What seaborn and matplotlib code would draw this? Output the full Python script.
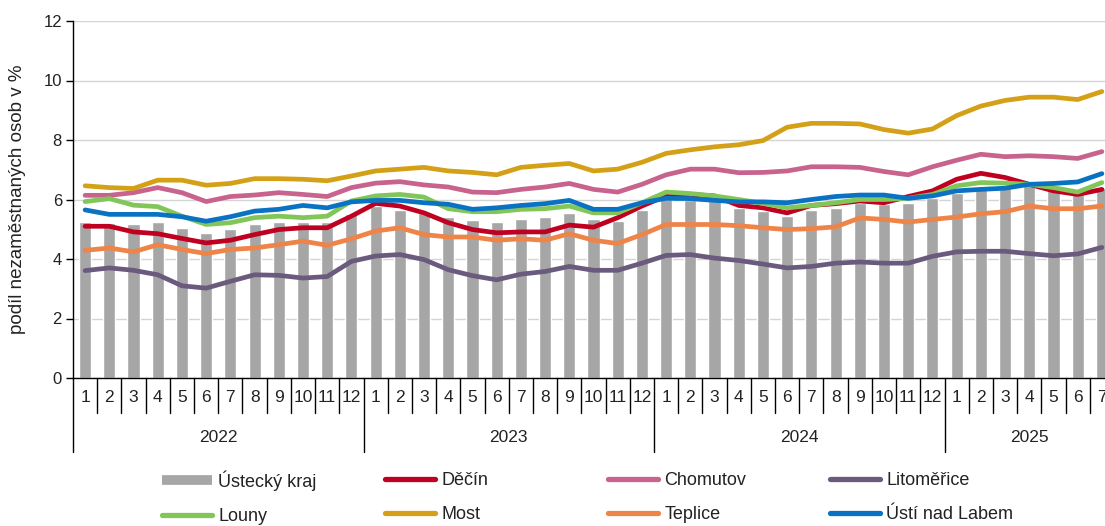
import numpy as np
import pandas as pd
import matplotlib
matplotlib.use("Agg")
import matplotlib.pyplot as plt
from matplotlib.lines import Line2D
import seaborn as sns

# ---------------- data ----------------
years = ["2022", "2023", "2024", "2025"]
months_per_year = [12, 12, 12, 7]
month_labels = [str(m) for n in months_per_year for m in range(1, n + 1)]

kraj = [5.23, 5.22, 5.17, 5.23, 5.05, 4.86, 5.00, 5.17, 5.23, 5.23, 5.23, 5.50,
        5.78, 5.65, 5.54, 5.42, 5.31, 5.23, 5.34, 5.40, 5.54, 5.34, 5.28, 5.65,
        6.02, 6.00, 5.95, 5.72, 5.60, 5.45, 5.65, 5.72, 5.88, 5.85, 5.87, 6.04,
        6.21, 6.38, 6.38, 6.49, 6.32, 6.21, 6.38]
decin = [5.10, 5.10, 4.91, 4.85, 4.69, 4.54, 4.63, 4.82, 4.99, 5.05, 5.05, 5.44,
         5.87, 5.78, 5.55, 5.22, 4.99, 4.88, 4.91, 4.91, 5.14, 5.07, 5.39, 5.78,
         6.12, 6.17, 6.12, 5.80, 5.72, 5.55, 5.80, 5.86, 5.95, 5.89, 6.10, 6.29,
         6.68, 6.88, 6.74, 6.51, 6.29, 6.17, 6.34]
chomutov = [6.14, 6.14, 6.23, 6.40, 6.23, 5.93, 6.10, 6.15, 6.23, 6.17, 6.10, 6.40,
            6.55, 6.60, 6.49, 6.42, 6.25, 6.23, 6.34, 6.42, 6.54, 6.34, 6.25, 6.51,
            6.83, 7.02, 7.02, 6.90, 6.91, 6.96, 7.10, 7.10, 7.08, 6.94, 6.83, 7.10,
            7.32, 7.52, 7.44, 7.47, 7.44, 7.38, 7.61]
litomerice = [3.61, 3.70, 3.62, 3.47, 3.10, 3.02, 3.25, 3.47, 3.45, 3.36, 3.41, 3.92,
              4.10, 4.15, 3.98, 3.64, 3.44, 3.30, 3.49, 3.58, 3.75, 3.62, 3.62, 3.86,
              4.12, 4.15, 4.03, 3.95, 3.83, 3.70, 3.75, 3.86, 3.90, 3.86, 3.86, 4.09,
              4.24, 4.26, 4.26, 4.18, 4.11, 4.17, 4.39]
louny = [5.93, 6.03, 5.81, 5.76, 5.44, 5.16, 5.22, 5.39, 5.44, 5.39, 5.44, 5.95,
         6.12, 6.17, 6.08, 5.69, 5.59, 5.59, 5.67, 5.69, 5.78, 5.55, 5.55, 5.89,
         6.25, 6.20, 6.12, 6.00, 5.87, 5.72, 5.80, 5.89, 6.00, 6.00, 6.04, 6.17,
         6.46, 6.57, 6.55, 6.51, 6.40, 6.25, 6.57]
most = [6.46, 6.40, 6.37, 6.65, 6.65, 6.48, 6.54, 6.70, 6.70, 6.68, 6.63, 6.79,
        6.96, 7.02, 7.08, 6.96, 6.91, 6.83, 7.08, 7.15, 7.21, 6.96, 7.02, 7.25,
        7.55, 7.67, 7.77, 7.84, 7.98, 8.43, 8.56, 8.56, 8.54, 8.35, 8.23, 8.37,
        8.82, 9.14, 9.33, 9.44, 9.44, 9.36, 9.63]
teplice = [4.29, 4.37, 4.24, 4.48, 4.32, 4.18, 4.32, 4.37, 4.48, 4.60, 4.46, 4.68,
           4.94, 5.05, 4.82, 4.74, 4.74, 4.63, 4.68, 4.63, 4.85, 4.63, 4.52, 4.82,
           5.16, 5.16, 5.16, 5.12, 5.05, 4.99, 5.02, 5.08, 5.38, 5.33, 5.24, 5.33,
           5.41, 5.52, 5.59, 5.78, 5.69, 5.69, 5.78]
usti = [5.65, 5.50, 5.50, 5.50, 5.42, 5.27, 5.42, 5.61, 5.67, 5.80, 5.72, 5.92,
        5.97, 5.97, 5.89, 5.84, 5.67, 5.72, 5.80, 5.86, 5.97, 5.67, 5.67, 5.89,
        6.04, 6.03, 5.97, 5.92, 5.92, 5.89, 6.00, 6.10, 6.15, 6.15, 6.04, 6.12,
        6.29, 6.34, 6.38, 6.51, 6.54, 6.59, 6.87]

bar_name = "Ústecký kraj"
line_names = ["Děčín", "Chomutov", "Litoměřice", "Louny", "Most", "Teplice", "Ústí nad Labem"]
line_values = [decin, chomutov, litomerice, louny, most, teplice, usti]
line_colors = ["#C00020", "#C8638E", "#6A5A7E", "#82C65A", "#D4A017", "#EE8448", "#0A72C2"]
bar_color = "#A6A6A6"

n = len(month_labels)
df = pd.DataFrame({"idx": np.arange(n), bar_name: kraj})
for nm, vals in zip(line_names, line_values):
    df[nm] = vals

# ---------------- figure ----------------
sns.set_theme(style="white")
plt.rcParams["font.family"] = ["Liberation Sans", "DejaVu Sans"]

W, H = 1105, 526
fig = plt.figure(figsize=(W / 100, H / 100), dpi=100)
ax_left, ax_right, ax_top, ax_bottom = 73, 1114, 21, 378
ax = fig.add_axes([ax_left / W, (H - ax_bottom) / H, (ax_right - ax_left) / W, (ax_bottom - ax_top) / H])

sns.barplot(data=df, x="idx", y=bar_name, native_scale=True, width=0.5,
            color=bar_color, saturation=1, ax=ax, zorder=2)
for nm, col in zip(line_names, line_colors):
    sns.lineplot(data=df, x="idx", y=nm, color=col, lw=3.4, ax=ax,
                 solid_capstyle="round", solid_joinstyle="round", zorder=3)

ax.set_xlim(-0.5, n - 0.5)
ax.set_ylim(0, 12)
ax.set_yticks(np.arange(0, 13, 2))
ax.tick_params(axis="y", which="major", direction="out", length=5, width=1,
               color="black", labelsize=12, pad=3, left=True, labelcolor="#222222")
ax.yaxis.grid(True, color="#D4D4D4", lw=1)
ax.xaxis.grid(False)
ax.set_axisbelow(True)
for s in ["top", "right"]:
    ax.spines[s].set_visible(False)
for s in ["left", "bottom"]:
    ax.spines[s].set_visible(True)
    ax.spines[s].set_color("black")
    ax.spines[s].set_linewidth(1)

ax.set_xticks(np.arange(n))
ax.set_xticklabels(month_labels, fontsize=12.5, color="#222222")
ax.tick_params(axis="x", length=0, pad=9)
ax.set_xlabel("")
ax.set_ylabel("podíl nezaměstnaných osob v %", fontsize=13.5, color="#222222")
ax.yaxis.set_label_coords((26 - ax_left) / (ax_right - ax_left), 0.5)

# month / year separators under the axis
axh = ax_bottom - ax_top
trans = ax.get_xaxis_transform()
month_sep = -(413 - ax_bottom) / axh
year_sep = -(452 - ax_bottom) / axh
starts = np.cumsum([0] + months_per_year)
year_bounds = set(starts[:-1])
for k in range(n):
    y1 = year_sep if k in year_bounds else month_sep
    ax.plot([k - 0.5, k - 0.5], [0, y1], transform=trans, color="black", lw=1, clip_on=False, zorder=5)
for yr, s0, cnt in zip(years, starts[:-1], months_per_year):
    ax.text(s0 + cnt / 2 - 0.5, -(437 - ax_bottom) / axh, yr, transform=trans,
            ha="center", va="center", fontsize=12.5, color="#222222")

# legend: 4 columns, evenly spaced
handles = {bar_name: Line2D([], [], color=bar_color, lw=7, solid_capstyle="butt")}
for nm, col in zip(line_names, line_colors):
    handles[nm] = Line2D([], [], color=col, lw=3.8, solid_capstyle="round")
columns = [[bar_name, "Louny"], ["Děčín", "Most"], ["Chomutov", "Teplice"], ["Litoměřice", "Ústí nad Labem"]]
col_x = [162, 385, 608, 830]
fs = 13
for cx, names in zip(col_x, columns):
    leg = fig.legend([handles[nm] for nm in names], names, loc="center left",
                     bbox_to_anchor=(cx / W, (H - 497.5) / H), frameon=False,
                     prop={"size": fs},
                     handlelength=50 / (fs * 100 / 72), handletextpad=0.35,
                     labelspacing=0.95, borderpad=0, borderaxespad=0)
    for t in leg.get_texts():
        t.set_color("#222222")

fig.savefig("out.png", dpi=100)
